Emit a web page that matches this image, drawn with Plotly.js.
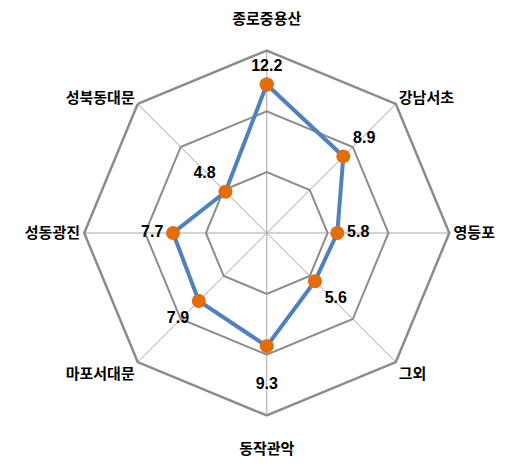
<!DOCTYPE html>
<html><head><meta charset="utf-8">
<script src="https://cdn.plot.ly/plotly-3.0.1.min.js"></script>
<style>html,body{margin:0;padding:0;background:#fff}#chart{width:520px;height:466px}</style>
</head><body><div id="chart"></div>
<script>
const categories = ['종로중용산','강남서초','영등포','그외','동작관악','마포서대문','성동광진','성북동대문'];
const values = [12.2, 8.9, 5.8, 5.6, 9.3, 7.9, 7.7, 4.8];
const labelText = ['12.2','8.9','5.8','5.6','<br>9.3','7.9','7.7','4.8'];
const labelPos = ['top center','top right','middle right','bottom right','bottom center','bottom left','middle left','top left'];
const tickText = ['종로중용산<br> ','강남서초','영등포','그외','<br>동작관악','마포서대문','성동광진','성북동대문'];

const trace = {
  type: 'scatterpolar',
  r: values.concat([values[0]]),
  theta: categories.concat([categories[0]]),
  mode: 'lines+markers+text',
  text: labelText.concat(['']),
  textposition: labelPos.concat(['top center']),
  textfont: {family: 'Liberation Sans, Arial, sans-serif', size: 16, color: '#000', weight: 'bold'},
  line: {color: '#4F81BD', width: 4},
  marker: {color: '#E46C0A', size: 14},
  cliponaxis: false,
  hoverinfo: 'skip',
  showlegend: false
};

const layout = {
  width: 520, height: 466,
  margin: {l: 0, r: 0, t: 0, b: 0},
  paper_bgcolor: '#fff',
  showlegend: false,
  polar: {
    domain: {x: [0.162, 0.864], y: [0.105, 0.895]},
    gridshape: 'linear',
    bgcolor: '#fff',
    radialaxis: {
      range: [0, 15], dtick: 5, showticklabels: false, ticks: '',
      showline: false, gridcolor: '#8c8c8c', gridwidth: 2
    },
    angularaxis: {
      rotation: 90, direction: 'clockwise',
      tickmode: 'array', tickvals: categories, ticktext: tickText,
      showline: true, linecolor: '#8c8c8c', linewidth: 2.5,
      gridcolor: '#a6a6a6', gridwidth: 1, ticks: '',
      tickfont: {family: 'Noto Sans CJK KR, sans-serif', size: 15, color: '#000', weight: 'bold'}
    }
  }
};

Plotly.newPlot('chart', [trace], layout, {displayModeBar: false, staticPlot: true});
</script></body></html>
